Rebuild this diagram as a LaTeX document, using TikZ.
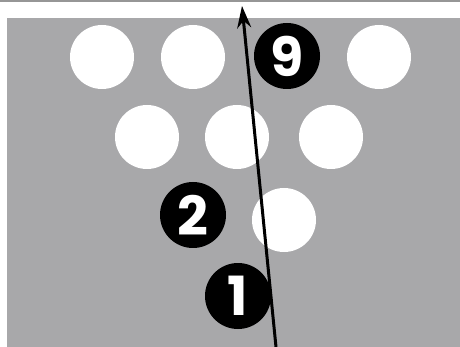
\documentclass[tikz,border=0pt]{standalone}
\usepackage{fontspec}
\setmainfont{Poppins}
\definecolor{lane}{RGB}{168,168,170}
\definecolor{topline}{RGB}{150,150,150}
\tikzset{
  pin/.style={circle,fill=white,minimum size=64pt,inner sep=0pt},
  ball/.style={circle,fill=black,minimum size=66pt,inner sep=0pt,text=white,font=\fontsize{54}{54}\selectfont\bfseries},
  track/.style={line width=3pt,-{Stealth[length=22pt,width=14pt]}}
}
\usetikzlibrary{arrows.meta}
\begin{document}
\begin{tikzpicture}[x=1pt,y=-1pt]
\useasboundingbox (0,0) rectangle (460,347);
\fill[white] (0,0) rectangle (460,347);
\fill[topline] (0,0) rectangle (460,2.5);
\fill[lane] (7,18) rectangle (460,347);
\node[pin] (p1) at (102,57) {};
\node[pin] (p2) at (193,57) {};
\node[pin] (p3) at (379,57) {};
\node[pin] (p4) at (147,137) {};
\node[pin] (p5) at (237,137) {};
\node[pin] (p6) at (331,137) {};
\node[pin] (p7) at (284,220) {};
\coordinate (start) at (276,347);
\coordinate (end) at (242,6);
\draw[track] (start) -- (end);
\node[ball] (b9) at (287,56) {9};
\node[ball] (b2) at (193,215) {2};
\node[ball] (b1) at (238,296) {1};
\end{tikzpicture}
\end{document}
